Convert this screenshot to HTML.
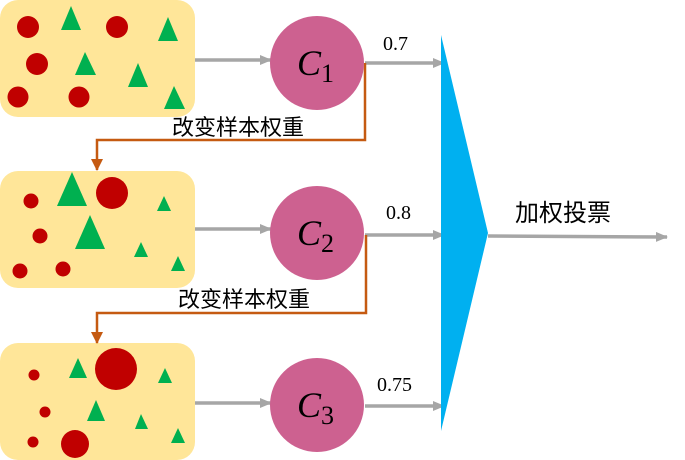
<!DOCTYPE html>
<html><head><meta charset="utf-8"><style>body{margin:0;background:#fff}svg{display:block}
.serif{font-family:"Liberation Serif",serif}
.cjk{font-family:"Liberation Sans","Noto Sans CJK SC",sans-serif}
</style></head><body>
<svg width="685" height="460" viewBox="0 0 685 460" xmlns="http://www.w3.org/2000/svg">
<defs>
<marker id="g" markerWidth="12" markerHeight="10" refX="11" refY="5" orient="auto" markerUnits="userSpaceOnUse"><path d="M0,0 L12,5 L0,10 z" fill="#a6a6a6"/></marker>
<marker id="o" markerWidth="12" markerHeight="12" refX="6" refY="11" orient="0" markerUnits="userSpaceOnUse"><path d="M0,0 L12,0 L6,12 z" fill="#c55a11"/></marker>
</defs>
<g fill="#ffe699">
<rect x="0" y="0" width="195" height="117" rx="18"/>
<rect x="0" y="171" width="195" height="117" rx="18"/>
<rect x="0" y="343" width="195" height="117" rx="18"/>
</g>
<g fill="#c00000">
<circle cx="28" cy="27" r="11"/><circle cx="117" cy="27" r="11"/><circle cx="37" cy="64" r="11"/><circle cx="18" cy="97" r="10.5"/><circle cx="79" cy="97" r="10.5"/>
<circle cx="31" cy="201" r="7.5"/><circle cx="40" cy="236" r="7.5"/><circle cx="20" cy="271" r="7.5"/><circle cx="63" cy="269" r="7.5"/><circle cx="112" cy="193" r="16"/>
<circle cx="34" cy="375" r="5.5"/><circle cx="45" cy="412" r="5.5"/><circle cx="33" cy="442" r="5.5"/><circle cx="116" cy="369" r="21"/><circle cx="75" cy="444" r="14"/>
</g>
<g fill="#00b050">
<polygon points="71,6 61,30 81,30"/><polygon points="168,17 158,41 178,41"/><polygon points="85,52 75,75 96,75"/><polygon points="138,63 128,87 148,87"/><polygon points="174,86 164,109 185,109"/>
<polygon points="72,172 57,206 87,206"/><polygon points="90,215 75,249 105,249"/><polygon points="164,196 157,211 171,211"/><polygon points="141,242 134,257 148,257"/><polygon points="178,256 171,271 185,271"/>
<polygon points="78,358 69,378 87,378"/><polygon points="96,400 87,421 105,421"/><polygon points="165,368 158,383 172,383"/><polygon points="141,414 135,429 148,429"/><polygon points="178,428 171,443 185,443"/>
</g>
<g stroke="#a6a6a6" stroke-width="3.5" fill="none" marker-end="url(#g)">
<line x1="195" y1="60" x2="271" y2="60"/><line x1="195" y1="229" x2="271" y2="229"/><line x1="195" y1="403" x2="271" y2="403"/>
<line x1="365" y1="63" x2="444" y2="63"/><line x1="365" y1="235" x2="444" y2="235"/><line x1="365" y1="406" x2="444" y2="406"/>
<line x1="488" y1="236" x2="667" y2="237"/>
</g>
<g stroke="#c55a11" stroke-width="2.5" fill="none" marker-end="url(#o)">
<polyline points="365,63 365,140 97,140 97,170"/>
<polyline points="366,235 366,313 97,313 97,343"/>
</g>
<g fill="#cd6190">
<circle cx="317" cy="63" r="47"/><circle cx="317" cy="233" r="47"/><circle cx="317" cy="405" r="47"/>
</g>
<polygon points="441,35 488,233 441,431" fill="#00b0f0"/>
<g class="serif" font-style="italic" font-size="36" fill="#000">
<text x="297" y="75">C<tspan font-style="normal" font-size="26" dy="7">1</tspan></text>
<text x="297" y="245">C<tspan font-style="normal" font-size="26" dy="7">2</tspan></text>
<text x="297" y="417">C<tspan font-style="normal" font-size="26" dy="7">3</tspan></text>
</g>
<g class="serif" font-size="20" fill="#000">
<text x="383" y="50">0.7</text><text x="386" y="219">0.8</text><text x="377" y="391">0.75</text>
</g>
<g class="cjk" fill="#000">
<text x="172" y="135" font-size="22">改变样本权重</text>
<text x="178" y="307" font-size="22">改变样本权重</text>
<text x="515" y="221" font-size="24">加权投票</text>
</g>
</svg>
</body></html>
